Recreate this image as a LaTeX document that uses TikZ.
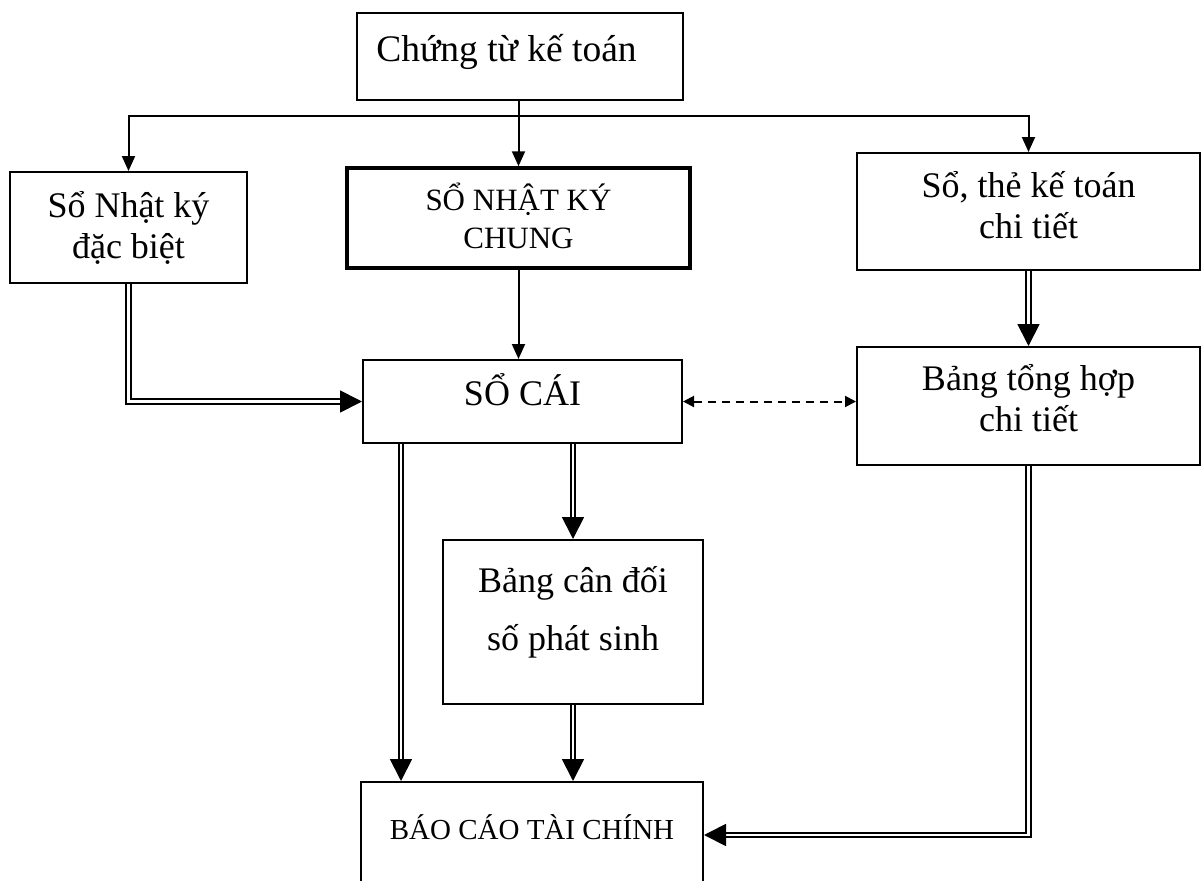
\documentclass[tikz,border=0pt]{standalone}
\usepackage{fontspec}
\setmainfont{Liberation Serif}
\usetikzlibrary{arrows.meta,positioning}

% strut that pushes a line upward inside its box
\newcommand\lowstrut[1]{\rule[-#1]{0pt}{#1}}

\tikzset{
  box/.style={draw, line width=2pt, align=center, inner sep=0pt,
    font=\fontsize{36}{41}\selectfont},
  thickbox/.style={box, line width=3.5pt},
  arr/.style={line width=2pt, -{Triangle[length=15pt,width=13pt]}},
  dbl/.style={double, double distance=2.6pt, line width=1.8pt,
    -{Triangle[length=22pt,width=22pt]}},
  dsh/.style={line width=2pt, dash pattern=on 8pt off 6pt,
    {Triangle[length=11pt,width=11pt]}-{Triangle[length=11pt,width=11pt]}},
}

\begin{document}
\begin{tikzpicture}[x=1pt,y=-1pt]
  \useasboundingbox (0,0) rectangle (1203,881);
  % boxes
  \node[box, font=\fontsize{37.5}{41}\selectfont, minimum width=326pt, minimum height=87pt,
    text height=30pt, text depth=21pt] (chungtu) at (519.5,56.5) {Chứng từ kế toán\hspace{26pt}};
  \node[box, minimum width=237pt, minimum height=111pt] (nkdb) at (128.5,227.5)
    {Sổ Nhật ký\\đặc biệt};
  \node[thickbox, font=\fontsize{31}{38}\selectfont, minimum width=343pt,
    minimum height=100pt] (nkc) at (518.5,218) {SỔ NHẬT KÝ\\CHUNG\lowstrut{4pt}};
  \node[box, minimum width=343pt, minimum height=117pt] (sothe) at (1028.5,211.5)
    {Sổ, thẻ kế toán\\chi tiết\lowstrut{14pt}};
  \node[box, minimum width=319pt, minimum height=83pt,
    text height=28pt, text depth=21pt] (socai) at (522.5,401.5) {SỔ CÁI};
  \node[box, minimum width=343pt, minimum height=118pt] (bangth) at (1028.5,406)
    {Bảng tổng hợp\\chi tiết\lowstrut{16pt}};
  \node[box, font=\fontsize{36}{58}\selectfont, minimum width=260pt,
    minimum height=164pt] (bangcd) at (573,622) {Bảng cân đối\\số phát sinh\lowstrut{28pt}};
  \node[box, font=\fontsize{29}{34}\selectfont, minimum width=342pt, minimum height=130pt,
    text height=20pt, text depth=35pt] (bctc) at (532,847) {BÁO CÁO TÀI CHÍNH};

  % from the vouchers
  \coordinate (bus) at (518.5,116);
  \draw[arr] (chungtu.south -| nkc.north) -- (nkc.north);
  \draw[arr] (bus) -| (nkdb.north);
  \draw[arr] (bus) -| (sothe.north);
  \draw[arr] (nkc.south) -- (nkc.south |- socai.north);

  % double flows
  \draw[dbl] (nkdb.south) |- (socai.west);
  \draw[dbl] (sothe.south) -- (bangth.north);
  \draw[dbl] ([xshift=39pt]socai.south west) -- ([xshift=39pt]socai.south west |- bctc.north);
  \draw[dbl] (bangcd.north |- socai.south) -- (bangcd.north);
  \draw[dbl] (bangcd.south) -- (bangcd.south |- bctc.north);
  \draw[dbl] (bangth.south) |- ([yshift=12pt]bctc.east);

  % check between ledger and summary
  \draw[dsh] (socai.east) -- (socai.east -| bangth.west);
\end{tikzpicture}
\end{document}
